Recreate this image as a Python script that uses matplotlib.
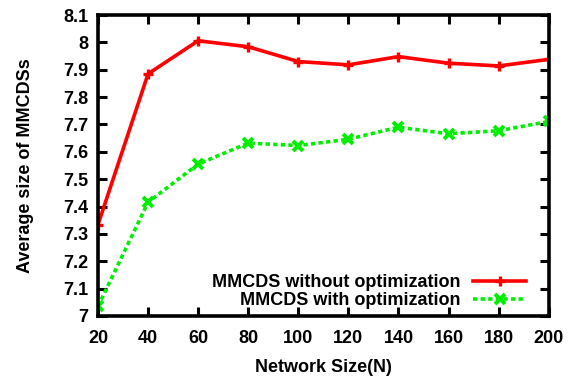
import matplotlib
matplotlib.use("Agg")
import matplotlib.pyplot as plt

network_size = [20, 40, 60, 80, 100, 120, 140, 160, 180, 200]
without_opt = [7.334, 7.885, 8.006, 7.984, 7.930, 7.918, 7.948, 7.924, 7.914, 7.938]
with_opt = [7.035, 7.416, 7.555, 7.632, 7.623, 7.646, 7.690, 7.666, 7.677, 7.711]
y_ticks = [7, 7.1, 7.2, 7.3, 7.4, 7.5, 7.6, 7.7, 7.8, 7.9, 8, 8.1]
y_tick_labels = ["7", "7.1", "7.2", "7.3", "7.4", "7.5", "7.6", "7.7", "7.8", "7.9", "8", "8.1"]

plt.rcParams["font.family"] = ["Liberation Sans", "DejaVu Sans"]
plt.rcParams["font.weight"] = "bold"

fig = plt.figure(figsize=(5.74, 3.76), dpi=100)
ax = fig.add_axes([0.1707, 0.1596, 0.7853, 0.8004])

ax.plot(network_size, without_opt, color="#ff0000", lw=2.6, marker="+",
        markersize=7, markeredgewidth=2.4, label="MMCDS without optimization")
ax.plot(network_size, with_opt, color="#00ee00", lw=2.6, ls=(0, (1.2, 0.9)),
        marker="x", markersize=7, markeredgewidth=2.8,
        label="MMCDS with optimization")

ax.set_xlim(20, 200)
ax.set_ylim(7, 8.1)
ax.set_xticks(network_size)
ax.set_yticks(y_ticks)
ax.set_yticklabels(y_tick_labels)
ax.tick_params(direction="in", length=6.5, width=2.2, top=True, right=True,
               labelsize=13)
ax.tick_params(axis="x", pad=10)
ax.tick_params(axis="y", pad=7)
for lbl in ax.get_xticklabels() + ax.get_yticklabels():
    lbl.set_fontweight("bold")
for sp in ax.spines.values():
    sp.set_linewidth(2.6)

ax.set_xlabel("Network Size(N)", fontsize=13, fontweight="bold", labelpad=9)
ax.set_ylabel("Average size of MMCDSs", fontsize=13, fontweight="bold", labelpad=21)

leg = ax.legend(loc="lower right", bbox_to_anchor=(0.977, -0.02), frameon=False,
                markerfirst=False, fontsize=13, handlelength=2.9,
                labelspacing=0.05, handletextpad=0.7, borderaxespad=0.3)
for t in leg.get_texts():
    t.set_fontweight("bold")

fig.savefig("out.png", dpi=100)
